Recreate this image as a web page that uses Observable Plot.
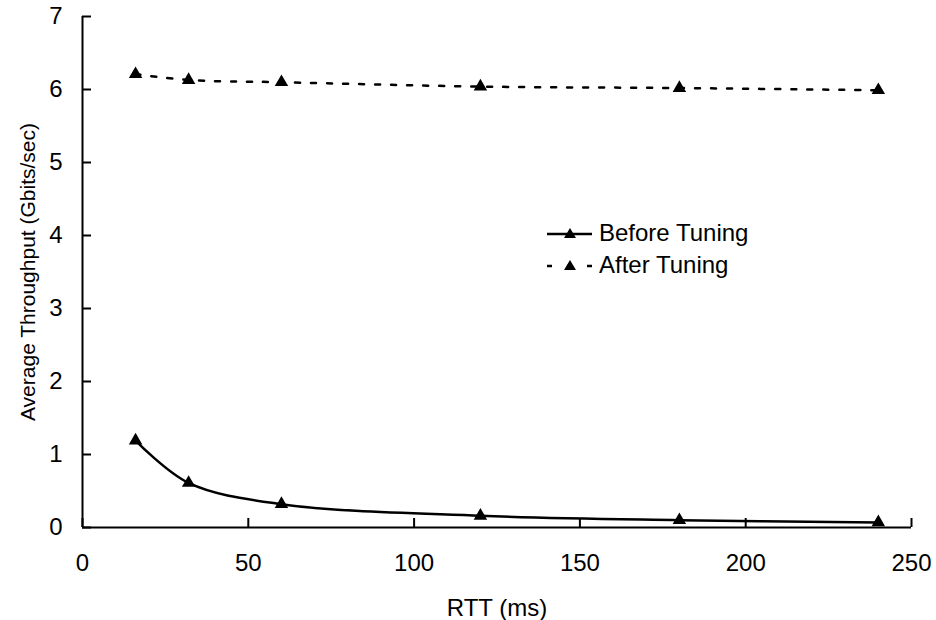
<!DOCTYPE html>
<html>
<head>
<meta charset="utf-8">
<script src="https://cdn.jsdelivr.net/npm/d3@7"></script>
<script src="https://cdn.jsdelivr.net/npm/@observablehq/plot@0.6"></script>
<style>
  html, body { margin: 0; padding: 0; background: #fff; }
  #wrap { position: relative; width: 936px; height: 620px; font-family: Arial, "Liberation Sans", sans-serif; }
  #legend { position: absolute; left: 546px; top: 217px; font-size: 24px; color: #000; }
  #legend .row { display: flex; align-items: center; height: 32px; }
  #legend svg { margin-right: 7px; }
</style>
</head>
<body>
<div id="wrap"></div>
<script>
const rtt = [16, 32, 60, 120, 180, 240];
const beforeTuning = [1.19, 0.61, 0.32, 0.16, 0.10, 0.07];
const afterTuning = [6.21, 6.13, 6.10, 6.04, 6.02, 5.99];
const seriesNames = ["Before Tuning", "After Tuning"];
const xTicks = [0, 50, 100, 150, 200, 250];
const yTicks = [0, 1, 2, 3, 4, 5, 6, 7];

const before = rtt.map((x, i) => ({x, y: beforeTuning[i]}));
const after = rtt.map((x, i) => ({x, y: afterTuning[i]}));

const chart = Plot.plot({
  width: 936,
  height: 620,
  marginLeft: 82,
  marginRight: 25,
  marginTop: 16,
  marginBottom: 93,
  style: {fontFamily: "Arial, 'Liberation Sans', sans-serif", fontSize: "24px", color: "#000", background: "#fff"},
  x: {domain: [0, 250]},
  y: {domain: [0, 7]},
  marks: [
    Plot.ruleX([0], {stroke: "#000", strokeWidth: 2}),
    Plot.ruleY([0], {stroke: "#000", strokeWidth: 2}),
    Plot.ruleX(xTicks, {x: d => d, y1: 0, y2: 0, insetTop: -9, stroke: "#000", strokeWidth: 2}),
    Plot.ruleY(yTicks, {y: d => d, x1: 0, x2: 0, insetRight: -9, stroke: "#000", strokeWidth: 2}),
    Plot.axisX({ticks: xTicks, tickSize: 0, tickPadding: 26, fontSize: 24, label: null, tickFormat: d => String(d)}),
    Plot.axisX({ticks: [], tickSize: 0, fontSize: 24, label: "RTT (ms)", labelAnchor: "center", labelOffset: 88, labelArrow: "none"}),
    Plot.axisY({ticks: yTicks, tickSize: 0, tickPadding: 20, fontSize: 24, label: null, tickFormat: d => String(d)}),
    Plot.axisY({ticks: [], tickSize: 0, fontSize: 21, label: "Average Throughput (Gbits/sec)", labelAnchor: "center", labelOffset: 62, labelArrow: "none"}),
    Plot.line(before, {x: "x", y: "y", curve: "catmull-rom", stroke: "#000", strokeWidth: 2.5}),
    Plot.line(after, {x: "x", y: "y", curve: "catmull-rom", stroke: "#000", strokeWidth: 2.5, strokeDasharray: "5,11"}),
    Plot.dot(before, {x: "x", y: "y", symbol: "triangle", r: 5, fill: "#000", stroke: "none"}),
    Plot.dot(after, {x: "x", y: "y", symbol: "triangle", r: 5, fill: "#000", stroke: "none"})
  ]
});
const wrap = document.getElementById("wrap");
wrap.appendChild(chart);

const legend = document.createElement("div");
legend.id = "legend";
seriesNames.forEach((name, i) => {
  const row = document.createElement("div");
  row.className = "row";
  const dash = i === 1 ? ' stroke-dasharray="5,15"' : '';
  row.innerHTML = `<svg width="46" height="14"><line x1="1" y1="8" x2="46" y2="8" stroke="#000" stroke-width="2.5"${dash}/><path d="M24,2 L30,12 L18,12 Z" fill="#000"/></svg><span>${name}</span>`;
  legend.appendChild(row);
});
wrap.appendChild(legend);
</script>
</body>
</html>
